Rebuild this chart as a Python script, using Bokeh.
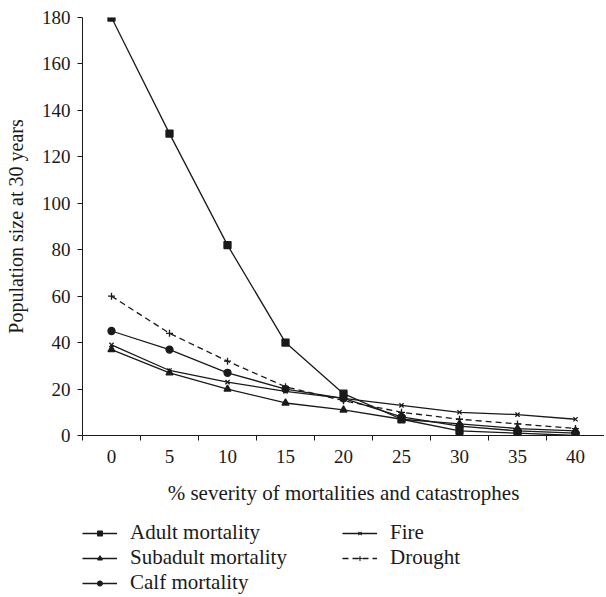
from bokeh.plotting import figure
from bokeh.layouts import column
from bokeh.models import FixedTicker, Legend, LegendItem
from bokeh.embed import file_html
from bokeh.resources import INLINE

severity = [0, 5, 10, 15, 20, 25, 30, 35, 40]
adult = [180, 130, 82, 40, 18, 7, 2, 1, 0]
subadult = [37, 27, 20, 14, 11, 7, 5, 3, 2]
calf = [45, 37, 27, 20, 16, 8, 4, 2, 1]
fire = [39, 28, 23, 19, 16, 13, 10, 9, 7]
drought = [60, 44, 32, 21, 15, 10, 7, 5, 3]
y_ticks = [0, 20, 40, 60, 80, 100, 120, 140, 160, 180]

FONT = "Liberation Serif"
INK = "#1a1a1a"

p = figure(frame_width=522, frame_height=418, output_backend="svg", toolbar_location=None,
           x_range=(-2.5, 42.5), y_range=(0, 180),
           min_border_left=82, min_border_top=17, min_border_right=0,
           min_border_bottom=84)
p.outline_line_color = None
p.grid.visible = False
p.background_fill_color = "white"
p.border_fill_color = "white"

p.xaxis.ticker = FixedTicker(ticks=severity,
                             minor_ticks=[s - 2.5 for s in severity] + [42.5])
p.xaxis.major_tick_out = 0
p.xaxis.major_tick_in = 0
p.xaxis.minor_tick_out = 5
p.xaxis.minor_tick_in = 0
p.xaxis.major_label_standoff = 9
p.xaxis.axis_label = "% severity of mortalities and catastrophes"
p.xaxis.axis_label_standoff = 15

p.yaxis.ticker = FixedTicker(ticks=y_ticks)
p.yaxis.major_tick_out = 5
p.yaxis.major_tick_in = 0
p.yaxis.minor_tick_out = 0
p.yaxis.minor_tick_in = 0
p.yaxis.major_label_standoff = 7
p.yaxis.axis_label = "Population size at 30 years"
p.yaxis.axis_label_standoff = 12

for ax in (p.xaxis, p.yaxis):
    ax.axis_line_color = INK
    ax.major_tick_line_color = INK
    ax.minor_tick_line_color = INK
    ax.major_label_text_font = FONT
    ax.major_label_text_font_size = "19px"
    ax.major_label_text_color = INK
    ax.axis_label_text_font = FONT
    ax.axis_label_text_font_style = "normal"
    ax.axis_label_text_color = INK
p.xaxis.axis_label_text_font_size = "21px"
p.yaxis.axis_label_text_font_size = "20px"

series = [
    ("Adult mortality", adult, "square", 7, "solid"),
    ("Subadult mortality", subadult, "triangle", 7, "solid"),
    ("Calf mortality", calf, "circle", 7, "solid"),
    ("Fire", fire, "x", 6, "solid"),
    ("Drought", drought, "cross", 7, "6 4"),
]

# legend lives in a small companion figure below the chart;
# its range excludes the data so only the legend shows
p2 = figure(width=604, height=76, output_backend="svg", toolbar_location=None,
            x_range=(100, 101), y_range=(100, 101),
            x_axis_location=None, y_axis_location=None,
            min_border_left=80, min_border_top=1, min_border_right=0, min_border_bottom=0)
p2.outline_line_color = None
p2.grid.visible = False
p2.border_fill_color = "white"

items = []
for name, vals, marker, size, dash in series:
    p.line(severity, vals, line_color=INK, line_width=1.3, line_dash=dash)
    p.scatter(severity, vals, marker=marker, size=size,
              fill_color=INK, line_color=INK, line_width=1.3)
    l1 = p2.line(severity, vals, line_color=INK, line_width=1.3, line_dash=dash)
    l2 = p2.scatter(severity, vals, marker=marker, size=5,
                    fill_color=INK, line_color=INK, line_width=1.1)
    items.append(LegendItem(label=name, renderers=[l1, l2]))

legend = Legend(items=items, location="top_left", nrows=3,
                orientation="vertical")
legend.label_text_font = FONT
legend.label_text_font_size = "21px"
legend.label_text_color = INK
legend.glyph_width = 35
legend.glyph_height = 12
legend.label_height = 21
legend.label_standoff = 13
legend.label_width = 212
legend.spacing = 0
legend.padding = 0
legend.margin = 0
legend.border_line_color = None
legend.background_fill_alpha = 0
p2.add_layout(legend, "center")

layout = column(p, p2, spacing=0)
open("out.html", "w").write(file_html(layout, INLINE))
